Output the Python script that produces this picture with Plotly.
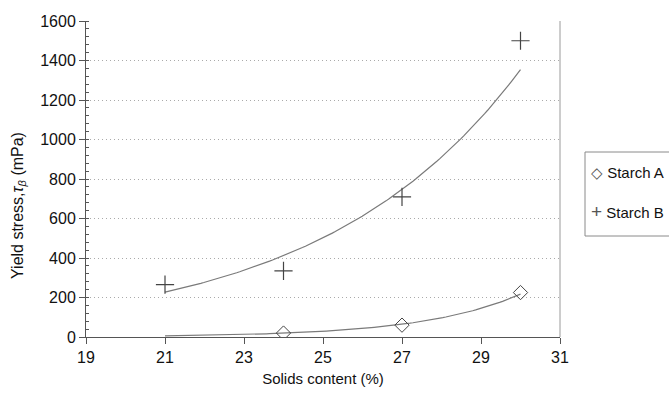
import numpy as np
import plotly.graph_objects as go

# Data
solids_a = [24, 27, 30]
stress_a = [20, 60, 225]
solids_b = [21, 24, 27, 30]
stress_b = [265, 335, 710, 1500]
trend_x_range = [21, 30]
series_names = ["Starch A", "Starch B"]
legend_glyphs = ["◇", "+"]
legend_glyph_sizes = [15, 19]

x_ticks = [19, 21, 23, 25, 27, 29, 31]
y_ticks = [0, 200, 400, 600, 800, 1000, 1200, 1400, 1600]


def exp_fit(xs, ys):
    b, ln_a = np.polyfit(np.array(xs, float), np.log(np.array(ys, float)), 1)
    return ln_a, b


xx = np.linspace(trend_x_range[0], trend_x_range[1], 120)
ln_a_a, b_a = exp_fit(solids_a, stress_a)
ln_a_b, b_b = exp_fit(solids_b, stress_b)
trend_a = np.exp(ln_a_a + b_a * xx)
trend_b = np.exp(ln_a_b + b_b * xx)

fig = go.Figure()
line_col = "#7a7a7a"
mark_col = "#444444"

fig.add_trace(go.Scatter(x=xx, y=trend_b, mode="lines",
                         line=dict(color=line_col, width=1.2), showlegend=False,
                         hoverinfo="skip"))
fig.add_trace(go.Scatter(x=xx, y=trend_a, mode="lines",
                         line=dict(color=line_col, width=1.2), showlegend=False,
                         hoverinfo="skip"))

fig.add_trace(go.Scatter(x=solids_a, y=stress_a, mode="markers", name=series_names[0],
                         showlegend=False,
                         marker=dict(symbol="diamond-open", size=11, color=mark_col,
                                     line=dict(width=1, color=mark_col))))
fig.add_trace(go.Scatter(x=solids_b, y=stress_b, mode="markers", name=series_names[1],
                         showlegend=False,
                         marker=dict(symbol="cross-thin-open", size=13, color=mark_col,
                                     line=dict(width=1.2, color=mark_col))))

# right border of plot area
fig.add_shape(type="line", xref="paper", yref="paper", x0=1, x1=1, y0=0, y1=1,
              line=dict(color="#9a9a9a", width=1))

# legend box (drawn as in the original, extending past the right edge)
W, H = 669, 396
L, R, T, B = 86, 109, 21, 59
pw, ph = W - L - R, H - T - B


def px_x(p):
    return (p - L) / pw


def px_y(p):
    return (H - B - p) / ph


fig.add_shape(type="rect", xref="paper", yref="paper",
              x0=px_x(585), x1=px_x(700), y0=px_y(236), y1=px_y(152),
              line=dict(color="#8a8a8a", width=1), fillcolor="white")
for i, (g, n, gs) in enumerate(zip(legend_glyphs, series_names, legend_glyph_sizes)):
    fig.add_annotation(xref="paper", yref="paper", x=px_x(589), y=px_y(172 + 39 * i),
                       xanchor="left", yanchor="middle", showarrow=False,
                       text=f"<span style='color:#555555;font-size:{gs}px'>{g}</span> {n}",
                       font=dict(size=15, color="#111111"))

# y-axis title
fig.add_annotation(xref="paper", yref="paper", x=px_x(18), y=px_y(206),
                   xanchor="center", yanchor="middle", showarrow=False, textangle=-90,
                   text="Yield stress,<i>τ</i><sub><i>β</i></sub> (mPa)",
                   font=dict(size=16, color="#111111"))

fig.update_layout(
    width=W, height=H,
    margin=dict(l=L, r=R, t=T, b=B),
    paper_bgcolor="white", plot_bgcolor="white",
    font=dict(family="Liberation Sans, Arial, sans-serif", size=16, color="#111111"),
    showlegend=False,
    xaxis=dict(range=[19, 31], tickmode="array", tickvals=x_ticks,
               ticktext=[str(v) for v in x_ticks],
               showgrid=False, zeroline=False,
               showline=True, linecolor="#555555", linewidth=1,
               ticks="outside", ticklen=6, tickcolor="#555555",
               tickfont=dict(size=16),
               title=dict(text="Solids content (%)", font=dict(size=15), standoff=8)),
    yaxis=dict(range=[0, 1600], tickmode="array", tickvals=y_ticks,
               ticktext=[str(v) for v in y_ticks],
               showgrid=True, gridcolor="#aaaaaa", griddash="1px,3px", gridwidth=1,
               zeroline=False,
               showline=True, linecolor="#555555", linewidth=1,
               ticks="outside", ticklen=6, tickcolor="#555555",
               tickfont=dict(size=16),
               minor=dict(dtick=40, ticks="inside", ticklen=3, tickcolor="#555555",
                          showgrid=False)),
)

fig.write_html("out.html")
